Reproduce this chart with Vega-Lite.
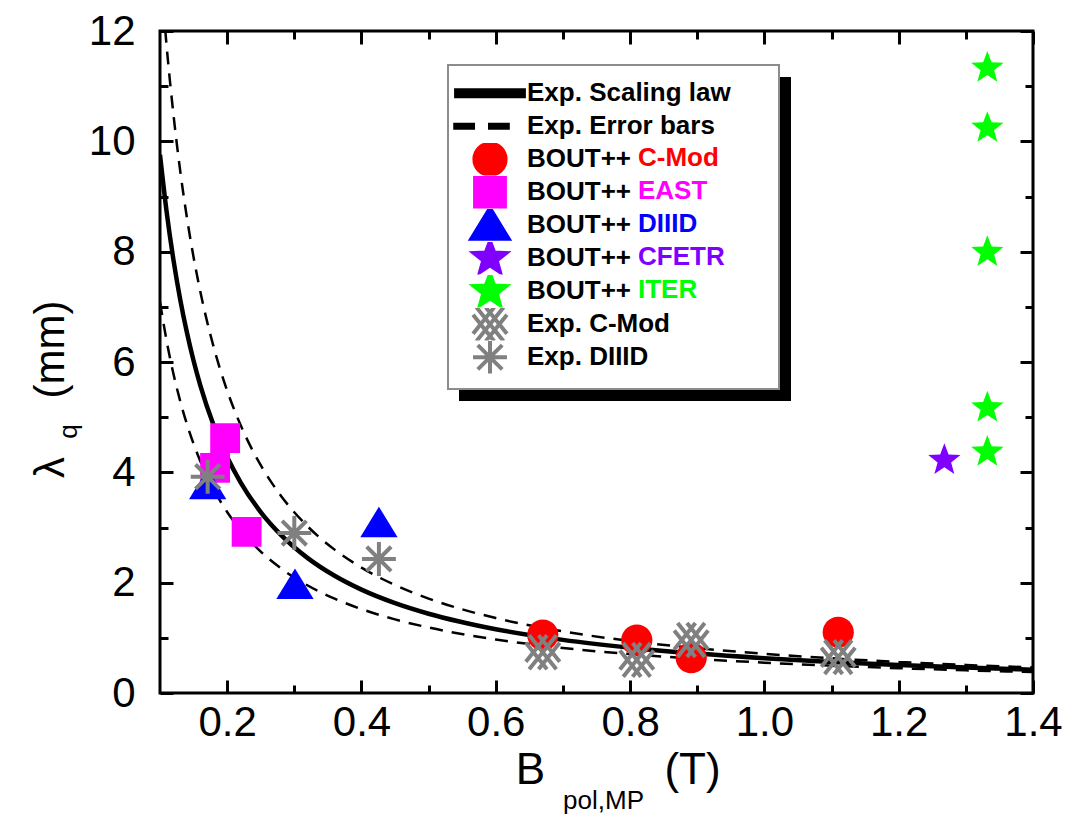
{
  "$schema": "https://vega.github.io/schema/vega-lite/v6.json",
  "width": 873,
  "height": 662,
  "autosize": {"type": "none"},
  "padding": {"left": 160, "top": 31, "right": 56, "bottom": 132},
  "background": "white",
  "datasets": {
    "curves": [
      {"b": 0.10, "law": 9.757, "upper": 13.22, "lower": 7.085},
      {"b": 0.11, "law": 8.710, "upper": 11.71, "lower": 6.374},
      {"b": 0.12, "law": 7.854, "upper": 10.49, "lower": 5.787},
      {"b": 0.13, "law": 7.141, "upper": 9.474, "lower": 5.295},
      {"b": 0.14, "law": 6.538, "upper": 8.623, "lower": 4.877},
      {"b": 0.15, "law": 6.023, "upper": 7.900, "lower": 4.518},
      {"b": 0.16, "law": 5.577, "upper": 7.278, "lower": 4.205},
      {"b": 0.18, "law": 4.848, "upper": 6.267, "lower": 3.689},
      {"b": 0.20, "law": 4.277, "upper": 5.482, "lower": 3.282},
      {"b": 0.22, "law": 3.819, "upper": 4.857, "lower": 2.953},
      {"b": 0.25, "law": 3.279, "upper": 4.129, "lower": 2.563},
      {"b": 0.28, "law": 2.866, "upper": 3.576, "lower": 2.260},
      {"b": 0.32, "law": 2.445, "upper": 3.018, "lower": 1.948},
      {"b": 0.36, "law": 2.125, "upper": 2.599, "lower": 1.710},
      {"b": 0.40, "law": 1.874, "upper": 2.273, "lower": 1.521},
      {"b": 0.45, "law": 1.629, "upper": 1.957, "lower": 1.334},
      {"b": 0.50, "law": 1.437, "upper": 1.712, "lower": 1.187},
      {"b": 0.60, "law": 1.157, "upper": 1.358, "lower": 0.970},
      {"b": 0.70, "law": 0.963, "upper": 1.117, "lower": 0.817},
      {"b": 0.80, "law": 0.822, "upper": 0.943, "lower": 0.705},
      {"b": 0.90, "law": 0.714, "upper": 0.812, "lower": 0.618},
      {"b": 1.00, "law": 0.630, "upper": 0.710, "lower": 0.550},
      {"b": 1.10, "law": 0.562, "upper": 0.629, "lower": 0.495},
      {"b": 1.20, "law": 0.507, "upper": 0.563, "lower": 0.449},
      {"b": 1.30, "law": 0.461, "upper": 0.509, "lower": 0.411},
      {"b": 1.40, "law": 0.422, "upper": 0.463, "lower": 0.379}
    ],
    "points": [
      {"series": "BOUT++ C-Mod", "source": "BOUT++", "machine": "C-Mod", "b": 0.670, "lam": 1.05},
      {"series": "BOUT++ C-Mod", "source": "BOUT++", "machine": "C-Mod", "b": 0.810, "lam": 0.96},
      {"series": "BOUT++ C-Mod", "source": "BOUT++", "machine": "C-Mod", "b": 0.891, "lam": 0.64},
      {"series": "BOUT++ C-Mod", "source": "BOUT++", "machine": "C-Mod", "b": 1.110, "lam": 1.10},
      {"series": "BOUT++ EAST", "source": "BOUT++", "machine": "EAST", "b": 0.197, "lam": 4.62},
      {"series": "BOUT++ EAST", "source": "BOUT++", "machine": "EAST", "b": 0.182, "lam": 4.08},
      {"series": "BOUT++ EAST", "source": "BOUT++", "machine": "EAST", "b": 0.229, "lam": 2.92},
      {"series": "BOUT++ DIIID", "source": "BOUT++", "machine": "DIIID", "b": 0.171, "lam": 3.76},
      {"series": "BOUT++ DIIID", "source": "BOUT++", "machine": "DIIID", "b": 0.301, "lam": 1.95},
      {"series": "BOUT++ DIIID", "source": "BOUT++", "machine": "DIIID", "b": 0.426, "lam": 3.07},
      {"series": "BOUT++ CFETR", "source": "BOUT++", "machine": "CFETR", "b": 1.268, "lam": 4.22},
      {"series": "BOUT++ ITER", "source": "BOUT++", "machine": "ITER", "b": 1.332, "lam": 11.33},
      {"series": "BOUT++ ITER", "source": "BOUT++", "machine": "ITER", "b": 1.332, "lam": 10.24},
      {"series": "BOUT++ ITER", "source": "BOUT++", "machine": "ITER", "b": 1.332, "lam": 7.99},
      {"series": "BOUT++ ITER", "source": "BOUT++", "machine": "ITER", "b": 1.332, "lam": 5.17},
      {"series": "BOUT++ ITER", "source": "BOUT++", "machine": "ITER", "b": 1.332, "lam": 4.37},
      {"series": "Exp. C-Mod", "source": "Exp", "machine": "C-Mod", "b": 0.670, "lam": 0.74},
      {"series": "Exp. C-Mod", "source": "Exp", "machine": "C-Mod", "b": 0.810, "lam": 0.60},
      {"series": "Exp. C-Mod", "source": "Exp", "machine": "C-Mod", "b": 0.891, "lam": 0.96},
      {"series": "Exp. C-Mod", "source": "Exp", "machine": "C-Mod", "b": 1.110, "lam": 0.65},
      {"series": "Exp. DIIID", "source": "Exp", "machine": "DIIID", "b": 0.171, "lam": 3.92},
      {"series": "Exp. DIIID", "source": "Exp", "machine": "DIIID", "b": 0.300, "lam": 2.90},
      {"series": "Exp. DIIID", "source": "Exp", "machine": "DIIID", "b": 0.426, "lam": 2.43}
    ]
  },
  "layer": [
    {
      "data": {"name": "curves"},
      "mark": {"type": "line", "strokeWidth": 4.5, "clip": true, "interpolate": "monotone"},
      "encoding": {
        "x": {"field": "b", "type": "quantitative", "scale": {"domain": [0.1, 1.4], "nice": false, "zero": false},
          "axis": {"orient": "bottom", "values": [0.2, 0.4, 0.6, 0.8, 1.0, 1.2, 1.4], "format": ".1f", "tickSize": -13,
            "labelFont": "Liberation Sans Narrow, Liberation Sans", "labelFontSize": 42, "labelPadding": 22, "labelFlush": false,
            "title": "B", "titleFont": "Liberation Sans Narrow, Liberation Sans", "titleFontSize": 44, "titleX": 370, "titleY": 77, "titleAlign": "center", "titleBaseline": "middle",
            "encode": {"labels": {"update": {"dx": {"signal": "-(datum.value - 0.2) * 25"}}}}}},
        "y": {"field": "law", "type": "quantitative", "scale": {"domain": [0, 12], "nice": false, "zero": false},
          "axis": {"orient": "left", "values": [0, 2, 4, 6, 8, 10, 12], "format": "d", "tickSize": -13,
            "labelFont": "Liberation Sans", "labelFontSize": 42, "labelPadding": 38,
            "title": "λ", "titleFont": "Liberation Sans", "titleFontSize": 42, "titleX": -110, "titleY": 436, "titleAngle": -90, "titleAlign": "center", "titleBaseline": "middle"}},
        "color": {"datum": "Exp. Scaling law", "type": "nominal"}
      }
    },
    {
      "data": {"name": "curves"},
      "mark": {"type": "line", "strokeWidth": 2.5, "strokeDash": [13, 9], "clip": true, "interpolate": "monotone"},
      "encoding": {
        "x": {"field": "b", "type": "quantitative", "scale": {"domain": [0.1, 1.4], "nice": false, "zero": false},
          "axis": {"orient": "bottom", "values": [0.3, 0.5, 0.7, 0.9, 1.1, 1.3], "tickSize": -8, "labels": false,
            "title": "pol,MP", "titleFont": "Liberation Sans Narrow, Liberation Sans", "titleFontSize": 26, "titleX": 443, "titleY": 107, "titleAlign": "center", "titleBaseline": "middle"}},
        "y": {"field": "upper", "type": "quantitative", "scale": {"domain": [0, 12], "nice": false, "zero": false},
          "axis": {"orient": "left", "values": [1, 3, 5, 7, 9, 11], "tickSize": -8, "labels": false,
            "title": "q", "titleFont": "Liberation Sans", "titleFontSize": 26, "titleX": -92, "titleY": 400, "titleAngle": -90, "titleAlign": "center", "titleBaseline": "middle"}},
        "color": {"datum": "Exp. Error bars", "type": "nominal"}
      }
    },
    {
      "data": {"name": "curves"},
      "mark": {"type": "line", "strokeWidth": 2.5, "strokeDash": [13, 9], "clip": true, "interpolate": "monotone"},
      "encoding": {
        "x": {"field": "b", "type": "quantitative", "scale": {"domain": [0.1, 1.4], "nice": false, "zero": false},
          "axis": {"orient": "top", "values": [0.2, 0.4, 0.6, 0.8, 1.0, 1.2, 1.4], "tickSize": -13, "labels": false,
            "title": "(T)", "titleFont": "Liberation Sans Narrow, Liberation Sans", "titleFontSize": 44, "titleX": 532, "titleY": 739, "titleAlign": "center", "titleBaseline": "middle"}},
        "y": {"field": "lower", "type": "quantitative", "scale": {"domain": [0, 12], "nice": false, "zero": false},
          "axis": {"orient": "right", "values": [0, 2, 4, 6, 8, 10, 12], "tickSize": -13, "labels": false,
            "title": "(mm)", "titleFont": "Liberation Sans", "titleFontSize": 42, "titleX": -983, "titleY": 318, "titleAngle": -90, "titleAlign": "center", "titleBaseline": "middle"}},
        "color": {"datum": "Exp. Error bars", "type": "nominal"}
      }
    },
    {
      "data": {"name": "points"},
      "transform": [{"filter": "datum.source === 'BOUT++'"}],
      "mark": {"type": "point", "filled": true, "size": 1150, "opacity": 1},
      "encoding": {
        "x": {"field": "b", "type": "quantitative", "scale": {"domain": [0.1, 1.4], "nice": false, "zero": false},
          "axis": {"orient": "top", "values": [0.3, 0.5, 0.7, 0.9, 1.1, 1.3], "tickSize": -8, "labels": false, "title": null}},
        "y": {"field": "lam", "type": "quantitative", "scale": {"domain": [0, 12], "nice": false, "zero": false},
          "axis": {"orient": "right", "values": [1, 3, 5, 7, 9, 11], "tickSize": -8, "labels": false, "title": null}},
        "color": {"field": "series", "type": "nominal",
          "scale": {"domain": ["Exp. Scaling law", "Exp. Error bars", "BOUT++ C-Mod", "BOUT++ EAST", "BOUT++ DIIID", "BOUT++ CFETR", "BOUT++ ITER", "Exp. C-Mod", "Exp. DIIID"],
                    "range": ["#000000", "#000000", "#ff0000", "#ff00ff", "#0000ff", "#8000ff", "#00ff00", "#808080", "#808080"]},
          "legend": {"orient": "none", "legendX": 291, "legendY": 46, "direction": "vertical", "columns": 1, "title": null, "padding": 0,
            "symbolSize": 1150, "symbolStrokeWidth": 4, "symbolOffset": 20, "clipHeight": 32.5, "rowPadding": 0, "labelOffset": 18,
            "labelFont": "Liberation Sans", "labelFontSize": 26, "labelFontWeight": "bold", "labelColor": "black", "labelLimit": 600,
            "labelExpr": "indexof(datum.value, 'BOUT++') === 0 ? 'BOUT++' : datum.value", "zindex": 3,
            "encode": {"symbols": {"strokeDash": {"value": [1, 0]}}}}},
        "shape": {"field": "series", "type": "nominal",
          "scale": {"domain": ["Exp. Scaling law", "Exp. Error bars", "BOUT++ C-Mod", "BOUT++ EAST", "BOUT++ DIIID", "BOUT++ CFETR", "BOUT++ ITER", "Exp. C-Mod", "Exp. DIIID"],
                    "range": [
                      "M-2,-0.18H2V0.18H-2ZM0,-1M0,1",
                      "M-2.05,-0.09H-1V0.09H-2.05ZM0,-0.09H1.05V0.09H0ZM0,-1M0,1",
                      "M0.92,0A0.92,0.92,0,1,1,-0.92,0A0.92,0.92,0,1,1,0.92,0ZM0,-1M0,1",
                      "M-0.88,-0.88H0.88V0.88H-0.88ZM0,-1M0,1",
                      "M0,-1L1.1,0.8L-1.1,0.8ZM0,1",
                      "M0,-1L0.247,-0.34L0.951,-0.309L0.399,0.13L0.588,0.809L0,0.42L-0.588,0.809L-0.399,0.13L-0.951,-0.309L-0.247,-0.34ZM0,1",
                      "M0,-1L0.247,-0.34L0.951,-0.309L0.399,0.13L0.588,0.809L0,0.42L-0.588,0.809L-0.399,0.13L-0.951,-0.309L-0.247,-0.34ZM0,1",
                      "M-0.8,-1L0.8,1M-1,-0.56L0.25,1M-0.25,-1L1,0.56M0.8,-1L-0.8,1M0.25,-1L-1,0.56M1,-0.56L-0.25,1",
                      "M0,-1L0,1M-1,0L1,0M-0.72,-0.72L0.72,0.72M0.72,-0.72L-0.72,0.72"
                    ]}}
      }
    },
    {
      "data": {"name": "points"},
      "transform": [{"filter": "datum.source === 'Exp'"}],
      "mark": {"type": "point", "filled": false, "size": 1150, "strokeWidth": 4, "opacity": 1},
      "encoding": {
        "x": {"field": "b", "type": "quantitative", "scale": {"domain": [0.1, 1.4], "nice": false, "zero": false}, "axis": null},
        "y": {"field": "lam", "type": "quantitative", "scale": {"domain": [0, 12], "nice": false, "zero": false}, "axis": null},
        "color": {"field": "series", "type": "nominal"},
        "shape": {"field": "series", "type": "nominal"}
      }
    },
    {
      "data": {"name": "points"},
      "transform": [{"filter": "datum.source === 'BOUT++'"}],
      "mark": {"type": "point", "size": 1150, "opacity": 0},
      "encoding": {
        "x": {"field": "b", "type": "quantitative", "scale": {"domain": [0.1, 1.4], "nice": false, "zero": false}, "axis": null},
        "y": {"field": "lam", "type": "quantitative", "scale": {"domain": [0, 12], "nice": false, "zero": false}, "axis": null},
        "strokeDash": {"field": "machine", "type": "nominal", "scale": {"domain": ["C-Mod", "EAST", "DIIID", "CFETR", "ITER"]},
          "legend": {"orient": "none", "legendX": 422, "legendY": 111, "direction": "vertical", "columns": 1, "title": null, "padding": 0,
            "symbolSize": 1150, "symbolStrokeWidth": 4, "symbolType": "circle", "clipHeight": 32.5, "rowPadding": 0, "labelOffset": 18,
            "labelFont": "Liberation Sans", "labelFontSize": 26, "labelFontWeight": "bold", "labelLimit": 600, "zindex": 4,
            "labelColor": {"expr": "datum.value === 'C-Mod' ? '#ff0000' : datum.value === 'EAST' ? '#ff00ff' : datum.value === 'DIIID' ? '#0000ff' : datum.value === 'CFETR' ? '#8000ff' : '#00ff00'"}}},
        "fill": {"field": "b", "type": "quantitative", "scale": {"range": ["#ffffff", "#ffffff"]},
          "legend": {"orient": "none", "legendX": 288, "legendY": 34, "direction": "vertical", "title": null, "padding": 0,
            "gradientLength": 324, "gradientThickness": 331, "gradientStrokeColor": "#8c8c8c", "gradientStrokeWidth": 2,
            "labelExpr": "''", "zindex": 2}},
        "stroke": {"field": "lam", "type": "quantitative", "scale": {"range": ["#000000", "#000000"]},
          "legend": {"orient": "none", "legendX": 299, "legendY": 46, "direction": "vertical", "title": null, "padding": 0,
            "gradientLength": 324, "gradientThickness": 332, "gradientStrokeWidth": 0,
            "labelExpr": "''", "zindex": 1}}
      }
    }
  ],
  "resolve": {"axis": {"x": "independent", "y": "independent"}},
  "config": {
    "font": "Liberation Sans",
    "view": {"stroke": "#000000", "strokeWidth": 3},
    "axis": {"grid": false, "domain": false, "tickColor": "#000000", "tickWidth": 3, "labelColor": "#000000", "titleColor": "#000000", "titleFontWeight": "normal", "labelOverlap": false, "labelFlush": false}
  }
}
